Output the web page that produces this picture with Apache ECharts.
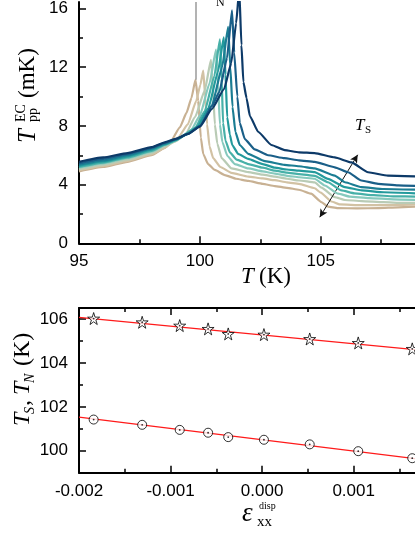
<!DOCTYPE html>
<html>
<head>
<meta charset="utf-8">
<script src="https://cdn.jsdelivr.net/npm/echarts@6/dist/echarts.min.js"></script>
<style>
  html, body { margin: 0; padding: 0; background: #fff; }
  #chart { width: 415px; height: 537px; }
</style>
</head>
<body>
<div id="chart"></div>
<script>
// top panel: T_pp^EC (mK) vs T (K), one curve per strain step (beige -> navy)
const curve1 = [[95,4.9],[96,5.2],[97,5.55],[98,6.0],[98.55,6.5],[98.8,6.95],[99.17,7.9],[99.45,8.9],[99.65,9.9],[99.82,11.15],[99.93,9.7],[100.04,7.2],[100.14,6.08],[100.34,5.4],[100.62,5.0],[101.03,4.65],[101.5,4.4],[102.0,4.25],[102.6,4.05],[103.1,3.9],[103.6,3.78],[104.1,3.65],[104.6,3.38],[105.03,2.81],[105.3,2.5],[105.7,2.4],[106.5,2.38],[107.4,2.4],[108.2,2.45],[109,2.5]]
const curve2 = [[95,4.98],[96,5.28],[97,5.62],[98,6.08],[98.55,6.5],[99.1,7.2],[99.5,8.1],[99.85,9.7],[100.02,10.8],[100.14,11.76],[100.22,10.0],[100.3,8.1],[100.4,6.6],[100.55,5.8],[100.85,5.2],[101.3,4.8],[102.0,4.55],[102.6,4.42],[103.1,4.3],[103.6,4.15],[104.1,4.05],[104.75,3.75],[105.0,3.45],[105.44,2.85],[105.8,2.65],[106.7,2.6],[107.6,2.6],[108.4,2.62],[109,2.65]]
const curve3 = [[95,5.05],[96,5.35],[97,5.7],[98,6.15],[98.55,6.6],[99.0,6.95],[99.4,7.4],[99.8,8.6],[100.2,10.4],[100.46,12.5],[100.54,10.5],[100.62,8.1],[100.72,6.8],[100.9,5.8],[101.31,5.1],[102.0,4.85],[102.6,4.68],[103.1,4.55],[103.6,4.4],[104.1,4.28],[104.75,4.15],[105.03,3.8],[105.58,3.15],[106.0,2.95],[106.7,2.88],[107.6,2.8],[108.4,2.75],[109,2.75]]
const curve4 = [[95,5.15],[96,5.45],[97,5.8],[98,6.25],[98.55,6.68],[99.0,7.0],[99.6,7.6],[100.0,8.7],[100.4,10.9],[100.67,13.2],[100.75,10.8],[100.83,8.1],[100.93,6.9],[101.14,5.95],[101.45,5.4],[102.0,5.1],[102.6,4.9],[103.1,4.75],[103.6,4.6],[104.1,4.5],[104.75,4.4],[105.17,3.94],[105.72,3.38],[106.2,3.18],[107.0,3.08],[108.0,3.0],[109,2.95]]
const curve5 = [[95,5.2],[96,5.5],[97,5.85],[98,6.3],[98.55,6.72],[99.0,7.02],[99.8,7.85],[100.2,9.0],[100.6,11.4],[100.83,13.9],[100.9,11.2],[100.96,8.2],[101.06,7.0],[101.24,6.2],[101.52,5.7],[102.0,5.4],[102.6,5.15],[103.1,4.95],[103.6,4.82],[104.1,4.72],[104.75,4.6],[105.3,4.16],[105.86,3.6],[106.4,3.4],[107.2,3.28],[108.0,3.2],[109,3.18]]
const curve6 = [[95,5.28],[96,5.58],[97,5.93],[98,6.38],[98.55,6.76],[99.0,7.05],[99.5,7.45],[99.9,7.95],[100.35,9.2],[100.75,11.7],[100.99,14.03],[101.06,11.5],[101.13,8.6],[101.24,7.4],[101.34,6.7],[101.58,6.1],[102.0,5.75],[102.6,5.4],[103.1,5.15],[103.6,5.03],[104.1,4.95],[104.75,4.85],[105.3,4.39],[106.0,3.83],[106.7,3.6],[107.6,3.48],[109,3.4]]
const curve7 = [[95,5.35],[96,5.65],[97,6.0],[98,6.45],[98.55,6.8],[99.0,7.08],[99.5,7.45],[100.0,8.0],[100.5,9.4],[100.92,12.0],[101.17,14.75],[101.26,12.0],[101.35,9.3],[101.47,7.6],[101.65,6.7],[102.0,6.1],[102.69,5.6],[103.5,5.35],[104.1,5.25],[104.75,5.1],[105.58,4.61],[106.0,4.16],[106.68,3.83],[107.6,3.7],[109,3.65]]
const curve8 = [[95,5.45],[96,5.75],[97,6.08],[98,6.5],[98.55,6.85],[99.0,7.1],[99.5,7.45],[100.0,7.98],[100.5,9.35],[100.8,10.3],[101.12,12.6],[101.33,15.88],[101.42,13.0],[101.55,10.0],[101.65,8.2],[101.86,7.1],[102.27,6.4],[102.82,6.0],[103.5,5.8],[104.1,5.65],[104.75,5.55],[105.58,5.18],[106.13,4.84],[106.68,4.28],[107.37,4.05],[108.2,3.95],[109,3.9]]
const curve9 = [[95,5.55],[96,5.85],[97,6.15],[98,6.55],[98.55,6.88],[99.0,7.12],[99.5,7.45],[100.0,7.95],[100.5,9.15],[101.0,10.5],[101.3,12.3],[101.5,15.0],[101.63,17.3],[101.72,13.5],[101.8,11.0],[101.93,9.9],[102.07,8.67],[102.41,7.6],[102.96,6.7],[103.51,6.35],[104.1,6.2],[104.75,6.15],[105.58,5.85],[106.27,5.51],[106.96,4.84],[107.78,4.61],[109,4.55]]
const curves = [curve1, curve2, curve3, curve4, curve5, curve6, curve7, curve8, curve9]
const curveColors = ['#c8b193', '#d2c2a4', '#b9cbb5', '#86c9bd', '#47b0a8', '#239a9c', '#1b7d93', '#1a5f88', '#0d3a68']

const topXTicks = [95, 100, 105]
const topXMinor = [97.5, 102.5, 107.5]
const topYTicks = [0, 4, 8, 12, 16]
const topYMinor = [2, 6, 10, 14]
const tnLine = [[99.82, 11.15], [99.82, 16.44]]
const tsArrow = [[104.96, 1.78], [106.53, 6.03]]

// bottom panel: transition temperatures vs strain
const strain = [-0.00184, -0.00131, -0.00090, -0.00059, -0.00037, 0.00002, 0.00052, 0.00105, 0.00164]
const tS = [106.02, 105.85, 105.70, 105.55, 105.32, 105.29, 105.09, 104.91, 104.64]
const tN = [101.42, 101.18, 100.95, 100.82, 100.62, 100.50, 100.29, 99.98, 99.66]
const fitX = [-0.002, 0.00167]
const fitTs = [106.07, 104.60]
const fitTn = [101.53, 99.64]

const botXTicks = [-0.002, -0.001, 0, 0.001]
const botXMinor = [-0.0015, -0.0005, 0.0005, 0.0015]
const botYTicks = [100, 102, 104, 106]
const botYMinor = [99, 101, 103, 105]

const sans = '"Liberation Sans", Arial, sans-serif'
const serif = '"Liberation Serif", "Times New Roman", serif'
const starPath = 'path://M50,0 L61,35 L98,35 L68,57 L79,91 L50,70 L21,91 L32,57 L2,35 L39,35 Z'

const pair = (xs, ys) => xs.map((x, i) => [x, ys[i]])

const chart = echarts.init(document.getElementById('chart'))

const labelStyle = { color: '#000', fontFamily: sans, fontSize: 17 }

function mainAxis(extra) {
  return Object.assign({
    type: 'value',
    axisLine: { show: true, onZero: false, lineStyle: { color: '#000', width: 2 } },
    splitLine: { show: false },
    axisTick: { show: true, inside: true, length: 7, lineStyle: { color: '#000', width: 1.5 } },
    axisLabel: Object.assign({ show: true }, labelStyle)
  }, extra)
}

function minorAxis(extra, ticks) {
  return Object.assign({
    type: 'value',
    axisLine: { show: false, onZero: false },
    splitLine: { show: false },
    axisTick: { show: true, inside: true, length: 4, customValues: ticks, lineStyle: { color: '#000', width: 1.5 } },
    axisLabel: { show: false }
  }, extra)
}

const series = curves.map((c, i) => ({
  type: 'line',
  xAxisIndex: 0,
  yAxisIndex: 0,
  data: c,
  symbol: 'none',
  smooth: 0.15,
  smoothMonotone: 'x',
  lineStyle: { color: curveColors[i], width: 2.2 },
  z: 2 + i
}))

// T_N guide line and T_S arrow
series.push({
  type: 'line', xAxisIndex: 0, yAxisIndex: 0, data: [], symbol: 'none',
  markLine: {
    silent: true, animation: false, symbol: ['none', 'none'], label: { show: false },
    lineStyle: { color: '#9a9a9a', width: 1.5, type: 'solid' },
    data: [[{ coord: tnLine[0] }, { coord: tnLine[1] }]]
  }
})
series.push({
  type: 'line', xAxisIndex: 0, yAxisIndex: 0, data: [], symbol: 'none', z: 20,
  markLine: {
    silent: true, animation: false, symbol: ['arrow', 'arrow'], symbolSize: [6, 8], label: { show: false },
    lineStyle: { color: '#111', width: 1, type: 'solid' },
    data: [[{ coord: tsArrow[0] }, { coord: tsArrow[1] }]]
  }
})

// fits and markers
series.push(
  { type: 'line', xAxisIndex: 2, yAxisIndex: 2, data: pair(fitX, fitTs), symbol: 'none', lineStyle: { color: '#ff1a1a', width: 1.2 }, z: 3 },
  { type: 'line', xAxisIndex: 2, yAxisIndex: 2, data: pair(fitX, fitTn), symbol: 'none', lineStyle: { color: '#ff1a1a', width: 1.2 }, z: 3 },
  { type: 'scatter', xAxisIndex: 2, yAxisIndex: 2, data: pair(strain, tS), symbol: starPath, symbolSize: 12,
    itemStyle: { color: '#fff', borderColor: '#000', borderWidth: 1 }, z: 5 },
  { type: 'scatter', xAxisIndex: 2, yAxisIndex: 2, data: pair(strain, tN), symbol: 'circle', symbolSize: 9,
    itemStyle: { color: '#fff', borderColor: '#000', borderWidth: 1 }, z: 5 },
  { type: 'scatter', xAxisIndex: 2, yAxisIndex: 2, data: pair(strain, tS).concat(pair(strain, tN)), symbol: 'circle', symbolSize: 1.8,
    itemStyle: { color: '#000' }, z: 6 }
)

const option = {
  animation: false,
  backgroundColor: '#fff',
  grid: [
    { left: 79, right: 0, top: 0, height: 243.3 },
    { left: 79, right: 0, top: 308, height: 164.7 }
  ],
  xAxis: [
    mainAxis({ gridIndex: 0, position: 'bottom', min: 95, max: 108.9,
      axisTick: { show: true, inside: true, length: 7, customValues: topXTicks, lineStyle: { color: '#000', width: 1.5 } },
      axisLabel: Object.assign({ customValues: topXTicks, margin: 10 }, labelStyle) }),
    minorAxis({ gridIndex: 0, position: 'bottom', min: 95, max: 108.9 }, topXMinor),
    mainAxis({ gridIndex: 1, position: 'bottom', min: -0.002, max: 0.00167,
      axisTick: { show: true, inside: true, length: 7, customValues: botXTicks, lineStyle: { color: '#000', width: 1.5 } },
      axisLabel: Object.assign({ customValues: botXTicks, margin: 10, formatter: v => v.toFixed(3) }, labelStyle) }),
    minorAxis({ gridIndex: 1, position: 'bottom', min: -0.002, max: 0.00167 }, botXMinor),
    mainAxis({ gridIndex: 1, position: 'top', min: -0.002, max: 0.00167,
      axisTick: { show: true, inside: true, length: 7, customValues: botXTicks, lineStyle: { color: '#000', width: 1.5 } },
      axisLabel: { show: false } }),
    minorAxis({ gridIndex: 1, position: 'top', min: -0.002, max: 0.00167 }, botXMinor)
  ],
  yAxis: [
    mainAxis({ gridIndex: 0, position: 'left', min: 0, max: 16.44,
      axisTick: { show: true, inside: true, length: 7, customValues: topYTicks, lineStyle: { color: '#000', width: 1.5 } },
      axisLabel: Object.assign({ customValues: topYTicks, margin: 11 }, labelStyle) }),
    minorAxis({ gridIndex: 0, position: 'left', min: 0, max: 16.44 }, topYMinor),
    mainAxis({ gridIndex: 1, position: 'left', min: 99, max: 106.5,
      axisTick: { show: true, inside: true, length: 7, customValues: botYTicks, lineStyle: { color: '#000', width: 1.5 } },
      axisLabel: Object.assign({ customValues: botYTicks, margin: 11 }, labelStyle) }),
    minorAxis({ gridIndex: 1, position: 'left', min: 99, max: 106.5 }, botYMinor)
  ],
  graphic: [
    // top y title: T_pp^EC (mK)
    {
      type: 'group', x: 28, y: 143, rotation: Math.PI / 2,
      children: [
        { type: 'text', x: 0, y: 0, style: { text: 'T', font: 'italic 25px ' + serif, fill: '#000', align: 'left', verticalAlign: 'middle' } },
        { type: 'text', x: 21, y: -7, style: { text: 'EC', font: '14px ' + serif, fill: '#000', align: 'left', verticalAlign: 'middle' } },
        { type: 'text', x: 21, y: 5, style: { text: 'pp', font: '14px ' + serif, fill: '#000', align: 'left', verticalAlign: 'middle' } },
        { type: 'text', x: 45, y: 0, style: { text: '(mK)', font: '23px ' + serif, fill: '#000', align: 'left', verticalAlign: 'middle' } }
      ]
    },
    // top x title: T (K)
    {
      type: 'text', x: 241, y: 277,
      style: { text: 'T', font: 'italic 23px ' + serif, fill: '#000', align: 'left', verticalAlign: 'middle' }
    },
    {
      type: 'text', x: 259, y: 277,
      style: { text: '(K)', font: '23px ' + serif, fill: '#000', align: 'left', verticalAlign: 'middle' }
    },
    // T_N label (cut at the top edge)
    {
      type: 'text', x: 207, y: -5,
      style: { text: 'T', font: 'italic 20px ' + serif, fill: '#000', align: 'left', verticalAlign: 'middle' }
    },
    {
      type: 'text', x: 216, y: 3,
      style: { text: 'N', font: '12px ' + serif, fill: '#000', align: 'left', verticalAlign: 'middle' }
    },
    // T_S label
    {
      type: 'text', x: 355, y: 126,
      style: { text: 'T', font: 'italic 17px ' + serif, fill: '#000', align: 'left', verticalAlign: 'middle' }
    },
    {
      type: 'text', x: 365, y: 130,
      style: { text: 'S', font: '11px ' + serif, fill: '#000', align: 'left', verticalAlign: 'middle' }
    },
    // bottom y title: T_S, T_N (K)
    {
      type: 'group', x: 23, y: 426, rotation: Math.PI / 2,
      children: [
        { type: 'text', x: 0, y: 0, style: { text: 'T', font: 'italic 24px ' + serif, fill: '#000', align: 'left', verticalAlign: 'middle' } },
        { type: 'text', x: 12, y: 7, style: { text: 'S', font: 'italic 14px ' + serif, fill: '#000', align: 'left', verticalAlign: 'middle' } },
        { type: 'text', x: 20, y: 0, style: { text: ',', font: '24px ' + serif, fill: '#000', align: 'left', verticalAlign: 'middle' } },
        { type: 'text', x: 31, y: 0, style: { text: 'T', font: 'italic 24px ' + serif, fill: '#000', align: 'left', verticalAlign: 'middle' } },
        { type: 'text', x: 43, y: 7, style: { text: 'N', font: 'italic 14px ' + serif, fill: '#000', align: 'left', verticalAlign: 'middle' } },
        { type: 'text', x: 60, y: 0, style: { text: '(K)', font: '24px ' + serif, fill: '#000', align: 'left', verticalAlign: 'middle' } }
      ]
    },
    // bottom x title: epsilon_xx^disp
    {
      type: 'text', x: 242, y: 514,
      style: { text: 'ε', font: 'italic 27px ' + serif, fill: '#000', align: 'left', verticalAlign: 'middle' }
    },
    {
      type: 'text', x: 257, y: 522,
      style: { text: 'xx', font: '15px ' + serif, fill: '#000', align: 'left', verticalAlign: 'middle' }
    },
    {
      type: 'text', x: 259, y: 506,
      style: { text: 'disp', font: '10px ' + serif, fill: '#000', align: 'left', verticalAlign: 'middle' }
    }
  ],
  series: series
}

chart.setOption(option)
</script>
</body>
</html>
